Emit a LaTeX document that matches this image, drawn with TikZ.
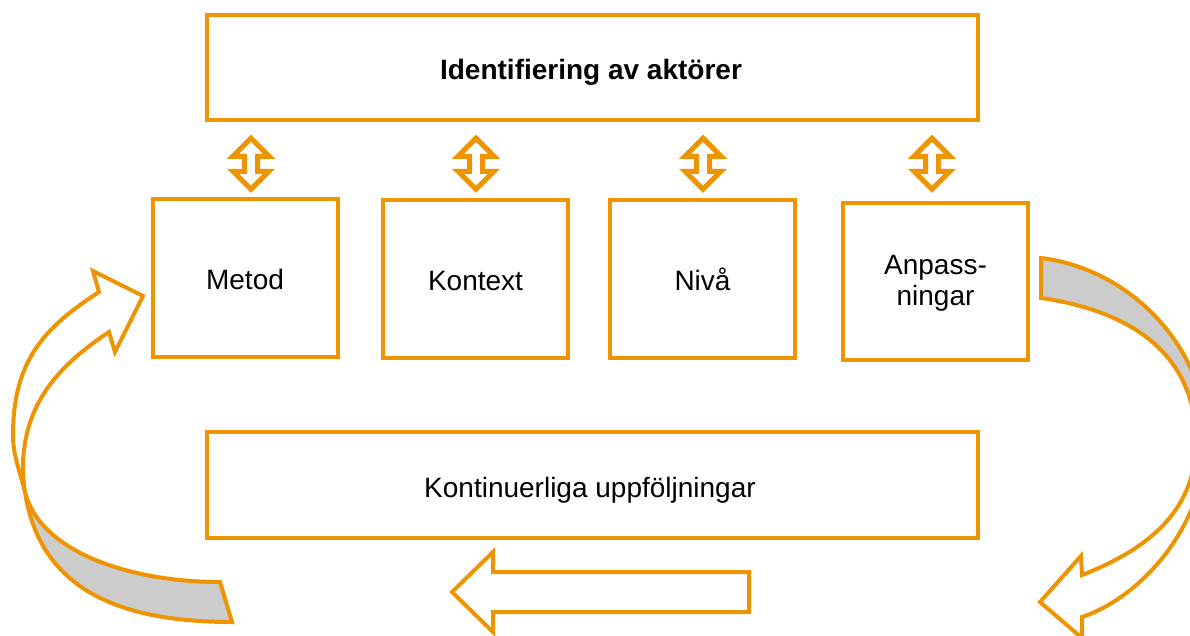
\documentclass[tikz,border=0pt]{standalone}
\usepackage{fontspec}
\setmainfont{Liberation Sans}
\definecolor{org}{RGB}{238,148,0}
\definecolor{bandgray}{RGB}{204,204,204}
\begin{document}
\begin{tikzpicture}[x=1pt,y=-1pt,
  box/.style={draw=org, line width=4pt, fill=white, inner sep=0pt},
  lbl/.style={inner sep=0pt, font=\fontsize{28}{30.7}\selectfont, align=center},
  shapeline/.style={draw=org, line width=4pt, line join=miter},
  dblarr/.pic={\draw[org, line width=5pt, fill=white]
     (0,-25.5) -- (18,-7.5) -- (6.5,-7.5) -- (6.5,7.5) -- (18,7.5) -- (0,25.5)
     -- (-18,7.5) -- (-6.5,7.5) -- (-6.5,-7.5) -- (-18,-7.5) -- cycle;}]
\useasboundingbox (0,0) rectangle (1190,635);
\clip (0,0) rectangle (1190,635);

% boxes
\node[box, minimum width=771pt, minimum height=105pt] (top) at (592.5,67.5) {};
\node[box, minimum width=185pt, minimum height=158pt] (metod) at (245.5,278) {};
\node[box, minimum width=185pt, minimum height=158pt] (kontext) at (475.5,279) {};
\node[box, minimum width=185pt, minimum height=158pt] (niva) at (702.5,279) {};
\node[box, minimum width=185pt, minimum height=157pt] (anp) at (935.5,281.5) {};
\node[box, minimum width=771pt, minimum height=106pt] (bottom) at (592.5,485) {};

% texts
\node[lbl, anchor=base, font=\fontsize{28}{30.7}\selectfont\bfseries] (ttop) at (591,79.5) {Identifiering av aktörer};
\node[lbl, anchor=base] (tmetod) at (245,289) {Metod};
\node[lbl, anchor=base] (tkontext) at (475.5,290) {Kontext};
\node[lbl, anchor=base] (tniva) at (702.5,290) {Nivå};
\node[lbl, anchor=center] (tanp) at (935.5,283.4) {Anpass-\\ningar};
\node[lbl, anchor=base] (tbottom) at (590,497) {Kontinuerliga uppföljningar};

% double arrows between top box and the four boxes
\coordinate (d1) at (251,163.75);
\coordinate (d2) at (476,163.75);
\coordinate (d3) at (703,163.75);
\coordinate (d4) at (932,163.75);
\pic at (d1) {dblarr};
\pic at (d2) {dblarr};
\pic at (d3) {dblarr};
\pic at (d4) {dblarr};

% straight left arrow
\draw[shapeline, fill=white] (749,572) -- (493,572) -- (493,552) -- (452,592)
  -- (493,632) -- (493,612) -- (749,612) -- cycle;

% left curved arrow: back band (gray)
\coordinate (lx) at (25,492);
\draw[shapeline, fill=bandgray]
  (lx) .. controls (40,552) and (130,582) .. (220,582)
  -- (232,622)
  .. controls (120,622) and (40,590) .. (lx) -- cycle;
% left curved arrow: front (white)
\draw[shapeline, fill=white]
  (109,332) -- (115,352) -- (143,296) -- (93,271) -- (99,292)
  .. controls (45,327) and (13,360) .. (13,435)
  .. controls (13,455) and (19,468) .. (lx)
  .. controls (23.8,484) and (23,478) .. (23,468)
  .. controls (23,400) and (64,362) .. (109,332) -- cycle;

% right curved arrow: back band (gray)
\draw[shapeline, fill=bandgray]
  (1041,258) .. controls (1131,269) and (1206,348) .. (1206,438)
  -- (1196,442)
  .. controls (1196,350) and (1125,310) .. (1041,298) -- cycle;
% right curved arrow: front (white)
\draw[shapeline, fill=white]
  (1206,438) .. controls (1206,528) and (1139,598) .. (1082,617)
  -- (1082,638) -- (1040,602) -- (1081,556) -- (1082,575)
  .. controls (1138,553) and (1196,517) .. (1196,442) -- cycle;
\end{tikzpicture}
\end{document}
